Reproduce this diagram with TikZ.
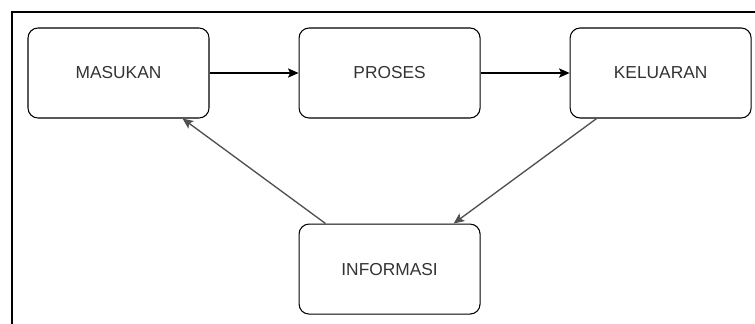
\documentclass[tikz,border=0pt]{standalone}
\usepackage{fontspec}
\setmainfont{Liberation Sans}
\usetikzlibrary{positioning,arrows.meta}
\definecolor{textgray}{HTML}{333333}
\definecolor{linegray}{HTML}{505050}

\begin{document}
\begin{tikzpicture}[x = 0.75pt, y = -0.75pt,
  node distance = 66.75pt and 66.75pt,
  box/.style = {draw, line width = 0.8pt, rounded corners = 7.5pt, minimum width = 135.75pt, minimum height = 67.5pt,
    font = \fontsize{13}{15}\selectfont, text = textgray},
  flow/.style = {-{Stealth[length = 8pt, width = 7pt, inset = 1.8pt]}, black, line width = 0.8pt},
  back/.style = {flow, linegray, line width = 1pt}]
\useasboundingbox (0,0) rectangle (755,324);
\draw[line width = 1.1pt] (12,324) -- (12,12) -- (755,12);
\node[box] (masukan) at (118.5,73) {MASUKAN};
\node[box, right = of masukan] (proses) {PROSES};
\node[box, right = of proses] (keluaran) {KELUARAN};
\node[box, below = 78.75pt of proses] (informasi) {INFORMASI};
\draw[flow] (masukan) -- (proses);
\draw[flow] (proses) -- (keluaran);
\draw[back] ([xshift = 20.25pt]keluaran.south west) -- ([xshift = -20.25pt]informasi.north east);
\draw[back] ([xshift = 20.25pt]informasi.north west) -- ([xshift = -20.25pt]masukan.south east);
\end{tikzpicture}
\end{document}
